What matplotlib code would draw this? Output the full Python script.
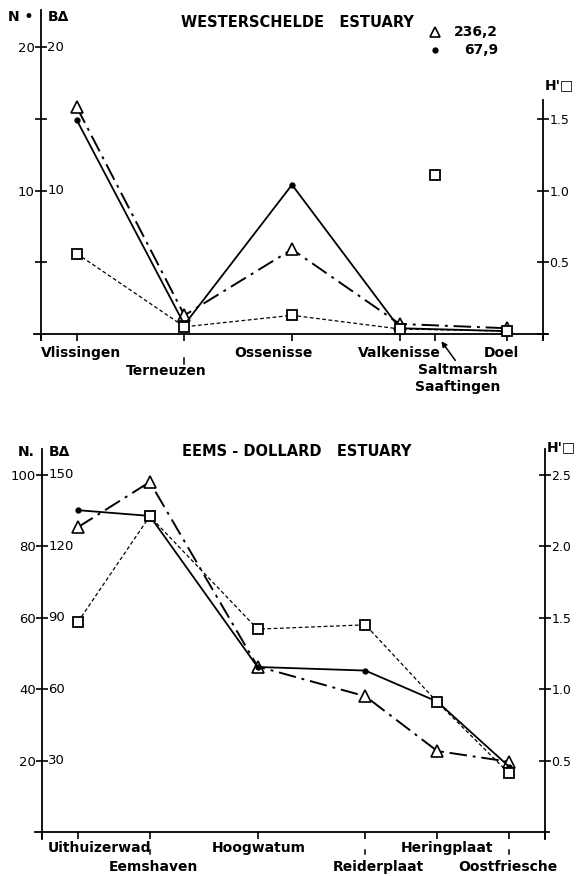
import numpy as np
import matplotlib
matplotlib.use("Agg")
import matplotlib.pyplot as plt

plt.rcParams['font.family'] = ['DejaVu Sans']

# ---------------- data: Westerschelde ----------------
ws_sites = ["Vlissingen", "Terneuzen", "Ossenisse", "Valkenisse", "Saltmarsh\nSaaftingen", "Doel"]
ws_x = [0, 3, 6, 9, 10, 12]
ws_B = [15.8, 1.3, 5.9, 0.7, None, 0.4]      # triangles (biomass)
ws_N = [14.9, 0.65, 10.4, 0.4, None, 0.2]     # dots (number of species)
ws_H = [0.56, 0.05, 0.13, 0.035, None, 0.02]  # squares (diversity H')
ws_H_saltmarsh = 1.11
ws_saltmarsh_B = "236,2"
ws_saltmarsh_N = "67,9"

# ---------------- data: Eems-Dollard ----------------
ed_sites = ["Uithuizerwad", "Eemshaven", "Hoogwatum", "Reiderplaat", "Heringplaat", "Oostfriesche"]
ed_x = [0, 2, 5, 8, 10, 12]
ed_B = [128, 147, 69.5, 57, 34, 29.5]
ed_N = [90.1, 88.5, 46.2, 45.2, 36.5, 18.3]
ed_H = [1.47, 2.21, 1.42, 1.45, 0.91, 0.41]

tri_style = dict(color='black', ls=(0, (9, 3, 1.5, 3)), lw=1.4, marker='^', ms=8,
                 mfc='white', mec='black', mew=1.2, zorder=3)
dot_style = dict(color='black', ls='-', lw=1.3, marker='o', ms=3.5, zorder=4)
sq_style = dict(color='black', ls=(0, (3, 2)), lw=0.9, marker='s', ms=7.5,
                mfc='white', mec='black', mew=1.3, zorder=5)

FS = 10          # site labels
TFS = 10.5       # titles
LAB = dict(fontsize=FS, fontweight='bold')

fig = plt.figure(figsize=(5.83, 8.76), dpi=100)


def setup(ax, ylim, hscale, xt):
    ax.set_xlim(-1.2, 13.1)
    ax.set_ylim(*ylim)
    ax.spines['top'].set_visible(False)
    ax.spines['right'].set_visible(False)
    ax.spines['left'].set_position(('data', -1))
    ax.spines['bottom'].set_position(('data', 0))
    for s in ax.spines.values():
        s.set_linewidth(1.3)
    ax.set_xticks([-1] + list(xt) + [13])
    ax.set_xticklabels([])
    ax.tick_params(axis='x', direction='out', length=5, width=1.2)
    ax.tick_params(axis='y', direction='inout', length=8, width=1.2, labelsize=9.5, pad=0.5)
    ax2 = ax.twinx()
    ax2.set_ylim(ylim[0] / hscale, ylim[1] / hscale)
    for k in ['top', 'left', 'bottom']:
        ax2.spines[k].set_visible(False)
    ax2.spines['right'].set_position(('data', 13))
    ax2.spines['right'].set_linewidth(1.3)
    ax2.tick_params(axis='y', direction='inout', length=8, width=1.2, labelsize=9, pad=0.5)
    return ax2


# ================= top panel =================
ax = fig.add_axes([0.0580, 0.6122, 0.8796, 0.3767])
ax2 = setup(ax, (-0.4, 22.6), 10, ws_x)
ax2.spines['right'].set_bounds(-0.04, 1.63)
ax.set_yticks([5, 10, 15, 20])
ax.set_yticklabels(['', '10', '', '20'])
ax2.set_yticks([0, 0.5, 1.0, 1.5])
ax2.set_yticklabels(['', '0.5', '1.0', '1.5'])
for v in [10, 20]:
    ax.text(-0.83, v, str(v), fontsize=9.5, va='center', ha='left')

keep = [i for i in range(len(ws_x)) if ws_B[i] is not None]
xs = [ws_x[i] for i in keep]
ax.plot(xs, [ws_B[i] for i in keep], **tri_style)
ax.plot(xs, [ws_N[i] for i in keep], **dot_style)
ax2.plot(xs, [ws_H[i] for i in keep], **sq_style)
ax2.plot([ws_x[4]], [ws_H_saltmarsh], ls='none', marker='s', ms=7.5, mfc='white',
         mec='black', mew=1.3, zorder=5)

# notes for the off-scale saltmarsh values
ax.plot([10], [21.05], ls='none', marker='^', ms=7.5, mfc='white', mec='black', mew=1.2,
        clip_on=False)
ax.plot([10], [19.8], ls='none', marker='o', ms=3.5, color='black', clip_on=False)
ax.text(11.75, 21.05, ws_saltmarsh_B, ha='right', va='center', **LAB)
ax.text(11.75, 19.8, ws_saltmarsh_N, ha='right', va='center', **LAB)

ax.text(6.14, 21.7, "WESTERSCHELDE   ESTUARY", fontsize=TFS, fontweight='bold',
        ha='center', va='center')
ax.text(-1.2, 22.1, "N •", ha='right', va='center', clip_on=False, **LAB)
ax.text(-0.8, 22.1, "B\u0394", ha='left', va='center', clip_on=False, **LAB)
ax.text(13.05, 17.35, "H'\u25a1", ha='left', va='center', clip_on=False, **LAB)

ws_label_pos = [(0.12, -1.35), (2.5, -2.55), (5.47, -1.35), (8.98, -1.35),
                (10.63, -3.1), (11.83, -1.35)]
for name, (lx, ly) in zip(ws_sites, ws_label_pos):
    ax.text(lx, ly, name, ha='center', va='center', clip_on=False,
            linespacing=1.2, **LAB)
ax.plot([3, 3], [-1.7, -2.1], color='black', lw=1.1, clip_on=False)
ax.annotate("", xy=(10.12, -0.35), xytext=(10.6, -2.0),
            arrowprops=dict(arrowstyle='-|>', color='black', lw=1.1, mutation_scale=8),
            annotation_clip=False)

# ================= bottom panel =================
bx = fig.add_axes([0.0597, 0.0421, 0.8813, 0.4456])
bx2 = setup(bx, (-2, 107.3), 40, ed_x)
bx.set_yticks([20, 40, 60, 80, 100])
bx.set_yticklabels(['20', '40', '60', '80', '100'])
bx2.set_yticks([0.5, 1.0, 1.5, 2.0, 2.5])
bx2.set_yticklabels(['0.5', '1.0', '1.5', '2.0', '2.5'])
for v, lab in zip([20, 40, 60, 80, 100], ['30', '60', '90', '120', '150']):
    bx.text(-0.83, v, lab, fontsize=9.5, va='center', ha='left')

bx.plot(ed_x, [b / 1.5 for b in ed_B], **tri_style)
bx.plot(ed_x, ed_N, **dot_style)
bx2.plot(ed_x, ed_H, **sq_style)

bx.text(6.1, 106.4, "EEMS - DOLLARD   ESTUARY", fontsize=TFS, fontweight='bold',
        ha='center', va='center')
bx.text(-1.2, 106.4, "N.", ha='right', va='center', clip_on=False, **LAB)
bx.text(-0.8, 106.4, "B\u0394", ha='left', va='center', clip_on=False, **LAB)
bx.text(13.05, 107.8, "H'\u25a1", ha='left', va='center', clip_on=False, **LAB)

ed_label_pos = [(0.61, -4.5), (2.09, -9.8), (5.04, -4.5), (8.35, -9.8),
                (10.27, -4.5), (11.97, -9.8)]
for name, (lx, ly) in zip(ed_sites, ed_label_pos):
    bx.text(lx, ly, name, ha='center', va='center', clip_on=False, **LAB)
for xv in [ed_x[1], ed_x[3], ed_x[5]]:
    bx.plot([xv, xv], [-5.0, -6.2], color='black', lw=1.1, clip_on=False)

fig.savefig("out.png", dpi=100)
